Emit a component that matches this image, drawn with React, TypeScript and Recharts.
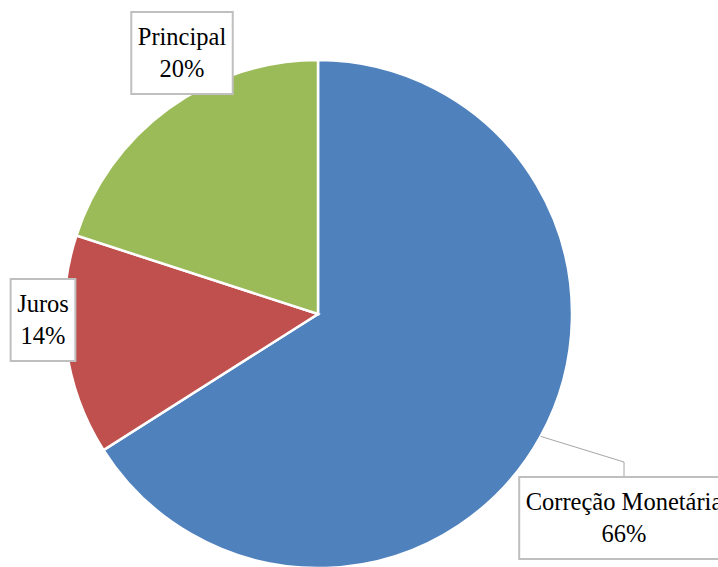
import { Cell, Pie, PieChart } from "recharts";

const sliceNames = ["Correção Monetária", "Juros", "Principal"];
const sliceShares = [66, 14, 20];
const sliceColors = ["#4F81BD", "#C0504D", "#9BBB59"];

const slices = sliceNames.map((name, i) => ({ name, value: sliceShares[i], color: sliceColors[i] }));

// where each label box sits, relative to the pie centre (Excel's manual placement)
const labelOffsets: Record<string, [number, number]> = {
  "Correção Monetária": [306, 204],
  Juros: [-275, 6],
  Principal: [-136, -261],
};
const leaderFor = ["Correção Monetária"];

const FONT = "'Liberation Serif', 'DejaVu Serif', serif";
const FONT_SIZE = 24.5;
const BOX_H = 82;
const RADIAN = Math.PI / 180;

let measureCtx: CanvasRenderingContext2D | null = null;
function textWidth(s: string) {
  if (!measureCtx) measureCtx = document.createElement("canvas").getContext("2d");
  if (!measureCtx) return s.length * FONT_SIZE * 0.5;
  measureCtx.font = `${FONT_SIZE}px ${FONT}`;
  return measureCtx.measureText(s).width;
}

function BoxLabel(props: any) {
  const { cx, cy, midAngle, outerRadius, name, value } = props;
  const [dx, dy] = labelOffsets[name];
  const bx = cx + dx;
  const by = cy + dy;
  const pct = `${value}%`;
  const w = Math.max(textWidth(name), textWidth(pct)) + 13;
  const top = by - BOX_H / 2;
  const ex = cx + outerRadius * Math.cos(-midAngle * RADIAN);
  const ey = cy + outerRadius * Math.sin(-midAngle * RADIAN);
  const textStyle = { fontFamily: FONT, fontSize: FONT_SIZE, fill: "#000" };
  return (
    <g>
      {leaderFor.includes(name) && (
        <polyline
          points={`${ex},${ey} ${bx},${top - 15} ${bx},${top}`}
          fill="none"
          stroke="#a6a6a6"
          strokeWidth={1}
        />
      )}
      <rect x={bx - w / 2} y={top} width={w} height={BOX_H} fill="#fff" stroke="#bfbfbf" strokeWidth={2} />
      <text x={bx} y={by - 8} textAnchor="middle" style={textStyle}>
        {name}
      </text>
      <text x={bx} y={by + 24} textAnchor="middle" style={textStyle}>
        {pct}
      </text>
    </g>
  );
}

export default function App() {
  return (
    <div style={{ width: 718, height: 567, background: "#fff", overflow: "hidden", fontFamily: FONT }}>
      <style>{"body{margin:0}"}</style>
      <PieChart width={718} height={567} margin={{ top: 0, right: 0, bottom: 0, left: 0 }}>
        <Pie
          data={slices}
          dataKey="value"
          nameKey="name"
          cx={318}
          cy={314}
          outerRadius={254}
          startAngle={90}
          endAngle={-270}
          stroke="#fff"
          strokeWidth={2.5}
          label={BoxLabel}
          labelLine={false}
          isAnimationActive={false}
        >
          {slices.map((s) => (
            <Cell key={s.name} fill={s.color} />
          ))}
        </Pie>
      </PieChart>
    </div>
  );
}
